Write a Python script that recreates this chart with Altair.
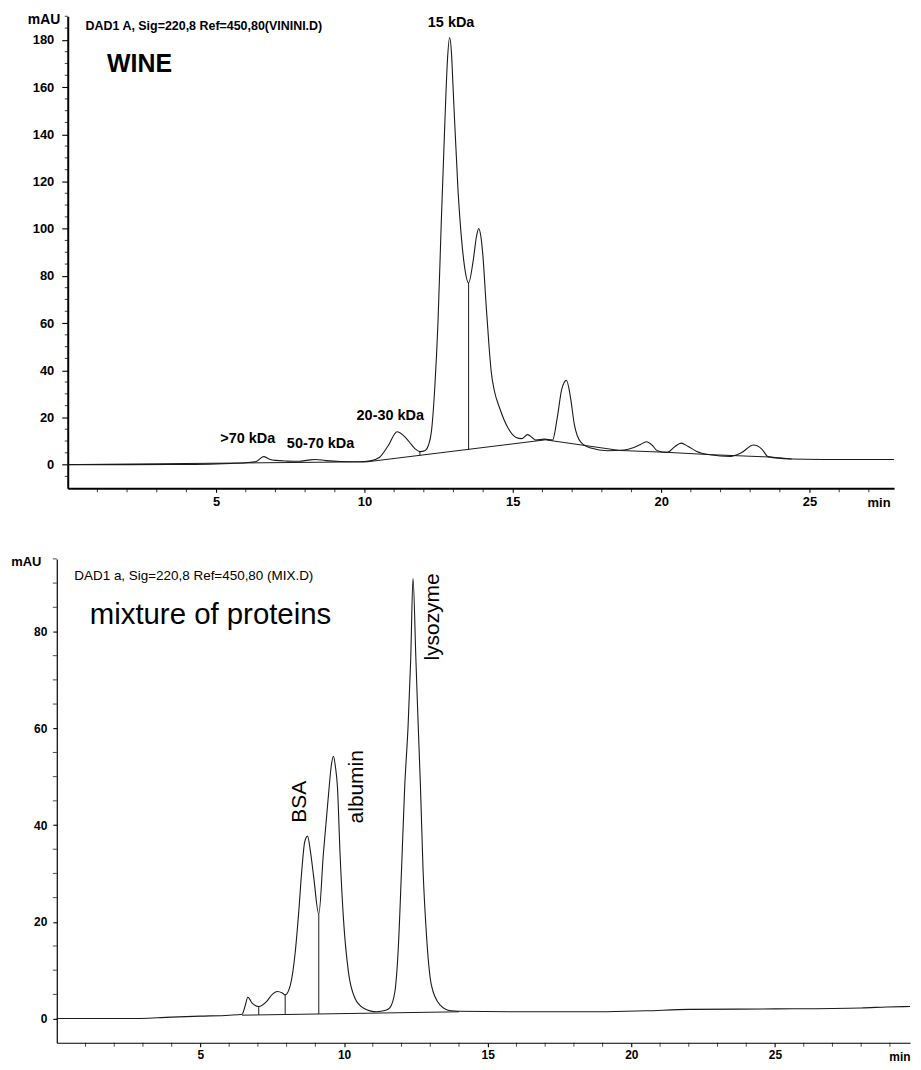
import altair as alt
import pandas as pd

FONT = "Liberation Sans"
INK = "#1a1a1a"

# ---------------- WINE chromatogram (top panel) ----------------
wine_t = [0.0, 2.0, 4.0, 5.0, 5.5, 6.0, 6.35, 6.6, 6.8, 7.0, 7.4, 7.8, 8.1, 8.35, 8.7,
          9.2, 9.8, 10.2, 10.5, 10.8, 11.1, 11.3, 11.5, 11.7, 11.87, 12.05, 12.15, 12.26,
          12.37, 12.48, 12.59, 12.71, 12.8, 12.87, 12.93, 12.99, 13.15, 13.27, 13.38,
          13.51, 13.66, 13.78, 13.85, 13.92, 13.99, 14.1, 14.2, 14.27, 14.38, 14.55,
          14.83, 15.11, 15.3, 15.5, 15.65, 15.78, 16.06, 16.34, 16.5, 16.65, 16.81,
          16.95, 17.07, 17.3, 17.63, 18.19, 18.75, 19.08, 19.3, 19.5, 19.7, 19.87, 20.2,
          20.45, 20.67, 20.9, 21.2, 21.65, 22.33, 22.7, 23.11, 23.4, 23.6, 24.34, 25.46,
          27.85]
wine_v = [0.0, 0.0, 0.1, 0.3, 0.5, 0.8, 1.3, 3.4, 2.3, 1.8, 1.5, 1.4, 1.9, 2.2, 1.7,
          1.3, 1.2, 1.6, 3.0, 8.0, 13.9, 12.5, 9.8, 6.8, 5.5, 6.0, 8.0, 14.3,
          32.6, 60.8, 103.0, 145.0, 172.0, 181.0, 175.0, 159.0, 117.0, 95.9, 83.3,
          77.0, 86.0, 97.0, 100.1, 97.0, 88.9, 67.8, 50.0, 39.7, 31.2, 24.2,
          15.7, 11.5, 11.0, 12.7, 11.5, 10.4, 10.8, 10.4, 20.0, 32.0, 35.7,
          28.0, 17.3, 9.4, 7.0, 5.9, 6.2, 7.3, 8.5, 9.7, 8.2, 5.9, 5.2,
          7.5, 9.1, 7.8, 5.6, 4.2, 3.5, 5.0, 8.3, 6.5, 3.4, 2.4, 2.2,
          2.2]
wine_base_t = [0.0, 10.1, 16.1, 18.6, 20.2, 21.7, 23.7, 24.4]
wine_base_v = [0.0, 1.2, 10.5, 6.0, 5.2, 4.2, 3.2, 2.4]
wine_drop_t = [11.87, 13.51]
wine_drop_lo = [3.8, 6.3]
wine_drop_hi = [5.5, 77.0]
wine_label_text = [">70 kDa", "50-70 kDa", "20-30 kDa", "15 kDa"]
wine_label_t = [6.07, 8.52, 10.87, 12.92]
wine_label_v = [10.8, 8.7, 20.7, 187.0]
wine_title_text = ["WINE"]
wine_title_t = [2.42]
wine_title_v = [169.7]
wine_head_text = ["DAD1 A, Sig=220,8 Ref=450,80(VININI.D)"]
wine_head_t = [0.6]
wine_head_v = [185.7]
wine_xticks = [5, 10, 15, 20, 25]
wine_xminor = [m for m in range(1, 28) if m % 5 != 0]
wine_yticks = [0, 20, 40, 60, 80, 100, 120, 140, 160, 180]
wine_yminor = [m for m in range(-5, 191, 5) if m % 20 != 0]

# ---------------- protein mixture chromatogram (bottom panel) ----------------
mix_t = [0.0, 2.5, 4.0, 5.0, 6.0, 6.45, 6.55, 6.65, 6.8, 7.03, 7.3, 7.5, 7.67, 7.85,
         7.95, 8.13, 8.3, 8.42, 8.53, 8.63, 8.73, 8.83, 8.94, 9.12, 9.28, 9.46, 9.56,
         9.63, 9.70, 9.77, 9.86, 9.98, 10.15, 10.38, 10.67, 11.13, 11.45, 11.59, 11.77,
         11.88, 12.0, 12.11, 12.23, 12.32, 12.40, 12.50, 12.58, 12.66, 12.75, 12.87,
         13.04, 13.33, 13.73, 14.0, 16.0, 18.9, 20.5, 22.0, 25.0, 28.0, 28.9, 29.7]
mix_v = [0.0, 0.0, 0.3, 0.5, 0.7, 0.9, 2.5, 4.4, 3.2, 2.5, 3.5, 5.0, 5.6, 5.3,
         4.9, 6.9, 13.7, 21.9, 30.7, 36.5, 37.7, 34.5, 29.4, 21.6, 34.1, 46.4, 52.5,
         54.2, 52.0, 47.8, 34.1, 20.5, 9.7, 4.2, 2.2, 1.4, 1.7, 2.2, 5.6,
         13.7, 30.7, 47.8, 60.7, 74.3, 91.0, 74.3, 60.7, 47.8, 30.7, 17.1,
         6.9, 2.9, 1.6, 1.5, 1.4, 1.4, 1.6, 1.9, 2.0, 2.2, 2.4, 2.5]
mix_base_t = [6.45, 14.0]
mix_base_v = [0.7, 1.4]
mix_drop_t = [7.03, 7.95, 9.12]
mix_drop_lo = [0.75, 0.85, 0.95]
mix_drop_hi = [2.5, 4.9, 21.6]
mix_label_text = ["BSA", "albumin", "lysozyme"]
mix_label_t = [8.47, 10.44, 13.1]
mix_label_v = [44.8, 47.9, 83.0]
mix_title_text = ["mixture of proteins"]
mix_title_t = [5.35]
mix_title_v = [83.5]
mix_head_text = ["DAD1 a, Sig=220,8 Ref=450,80 (MIX.D)"]
mix_head_t = [0.61]
mix_head_v = [91.5]
mix_xticks = [5, 10, 15, 20, 25]
mix_xminor = [m for m in range(1, 30) if m % 5 != 0]
mix_yticks = [0, 20, 40, 60, 80]
mix_yminor = [m for m in range(5, 96, 5) if m % 20 != 0]


def df(**cols):
    return pd.DataFrame(cols)


def x_axis(values, size, dw, title_x):
    return alt.Axis(values=values, tickSize=4, tickWidth=1.1, tickColor="black",
                    domainColor="black", domainWidth=dw, grid=False,
                    labelPadding=3, labelFont=FONT, labelFontSize=size,
                    labelFontWeight="bold", labelColor="black",
                    labelFlush=False, labelOverlap=False,
                    title="min", titleX=title_x, titleY=14, titleAlign="right",
                    titleBaseline="middle", titleFont=FONT, titleFontSize=size,
                    titleFontWeight="bold", titleColor="black")


def y_axis(values, size, dw, tick, pad, tx, tsize):
    return alt.Axis(values=values, tickSize=tick, tickWidth=1.1, tickColor="black",
                    domainColor="black", domainWidth=dw, grid=False,
                    labelPadding=pad, labelFont=FONT, labelFontSize=size,
                    labelFontWeight="bold", labelColor="black",
                    labelFlush=False, labelOverlap=False,
                    title="mAU", titleAngle=0, titleX=tx, titleY=3,
                    titleAlign="right", titleBaseline="middle", titleFont=FONT,
                    titleFontSize=tsize, titleFontWeight="bold", titleColor="black")


# ---------------- top panel ----------------
WX = alt.X("t:Q", scale=alt.Scale(domain=[0, 27.85], nice=False, zero=False),
           axis=x_axis(wine_xticks, 13, 2, 826))
WY = alt.Y("v:Q", scale=alt.Scale(domain=[-10, 190], nice=False, zero=False),
           axis=y_axis(wine_yticks, 13, 2, 6, 8, -8, 14))

w_sig = alt.Chart(df(t=wine_t, v=wine_v)).mark_line(
    color=INK, strokeWidth=1.1, interpolate="monotone").encode(x=WX, y=WY)
w_base = alt.Chart(df(t=wine_base_t, v=wine_base_v)).mark_line(
    color=INK, strokeWidth=1.0).encode(x="t:Q", y="v:Q")
w_drop = alt.Chart(df(t=wine_drop_t, v=wine_drop_lo, v2=wine_drop_hi)).mark_rule(
    color=INK, strokeWidth=1.0).encode(x="t:Q", y="v:Q", y2="v2:Q")
w_xmin = alt.Chart(df(t=wine_xminor)).mark_tick(
    orient="vertical", size=4, thickness=1.1, color="black", yOffset=2).encode(
    x="t:Q", y=alt.datum(-10))
w_ymin = alt.Chart(df(v=wine_yminor)).mark_tick(
    orient="horizontal", size=3, thickness=1.1, color="black", xOffset=-1.5).encode(
    y="v:Q", x=alt.datum(0))
w_lab = alt.Chart(df(t=wine_label_t, v=wine_label_v, s=wine_label_text)).mark_text(
    font=FONT, fontSize=14.5, fontWeight="bold", color="black",
    align="center", baseline="middle").encode(x="t:Q", y="v:Q", text="s:N")
w_title = alt.Chart(df(t=wine_title_t, v=wine_title_v, s=wine_title_text)).mark_text(
    font=FONT, fontSize=25, fontWeight="bold", color="black",
    align="center", baseline="middle").encode(x="t:Q", y="v:Q", text="s:N")
w_head = alt.Chart(df(t=wine_head_t, v=wine_head_v, s=wine_head_text)).mark_text(
    font=FONT, fontSize=12.5, fontWeight="bold", color="black",
    align="left", baseline="middle").encode(x="t:Q", y="v:Q", text="s:N")

top = alt.layer(w_sig, w_base, w_drop, w_xmin, w_ymin, w_lab, w_title, w_head).properties(
    width=830, height=474)

# ---------------- bottom panel ----------------
MX = alt.X("t:Q", scale=alt.Scale(domain=[0, 29.7], nice=False, zero=False),
           axis=x_axis(mix_xticks, 12, 1.2, 857))
MY = alt.Y("v:Q", scale=alt.Scale(domain=[-5, 95], nice=False, zero=False),
           axis=y_axis(mix_yticks, 12, 1.2, 4, 6, -16, 13))

m_sig = alt.Chart(df(t=mix_t, v=mix_v)).mark_line(
    color=INK, strokeWidth=1.1, interpolate="monotone").encode(x=MX, y=MY)
m_base = alt.Chart(df(t=mix_base_t, v=mix_base_v)).mark_line(
    color=INK, strokeWidth=1.0).encode(x="t:Q", y="v:Q")
m_drop = alt.Chart(df(t=mix_drop_t, v=mix_drop_lo, v2=mix_drop_hi)).mark_rule(
    color=INK, strokeWidth=1.0).encode(x="t:Q", y="v:Q", y2="v2:Q")
m_xmin = alt.Chart(df(t=mix_xminor)).mark_tick(
    orient="vertical", size=4, thickness=1.0, color="black", yOffset=2).encode(
    x="t:Q", y=alt.datum(-5))
m_ymin = alt.Chart(df(v=mix_yminor)).mark_tick(
    orient="horizontal", size=4, thickness=1.0, color="black", xOffset=-2).encode(
    y="v:Q", x=alt.datum(0))
m_lab = alt.Chart(df(t=mix_label_t, v=mix_label_v, s=mix_label_text)).mark_text(
    font=FONT, fontSize=21, color="black", angle=270,
    align="center", baseline="middle").encode(x="t:Q", y="v:Q", text="s:N")
m_title = alt.Chart(df(t=mix_title_t, v=mix_title_v, s=mix_title_text)).mark_text(
    font=FONT, fontSize=29.5, color="black",
    align="center", baseline="middle").encode(x="t:Q", y="v:Q", text="s:N")
m_head = alt.Chart(df(t=mix_head_t, v=mix_head_v, s=mix_head_text)).mark_text(
    font=FONT, fontSize=13.5, color="black",
    align="left", baseline="middle").encode(x="t:Q", y="v:Q", text="s:N")

bottom = alt.layer(m_sig, m_base, m_drop, m_xmin, m_ymin, m_lab, m_title, m_head).properties(
    width=857, height=486)

# small invisible spacer to shift the top panel right relative to the bottom one
spacer = alt.Chart(pd.DataFrame({"s": [0]})).mark_point(opacity=0).encode(
    x=alt.value(0), y=alt.value(0)).properties(width=1, height=1)

top_row = alt.hconcat(spacer, top, spacing=10, bounds="flush")

chart = alt.vconcat(top_row, bottom, spacing=47).properties(
    padding={"left": 2, "top": 2, "right": 0, "bottom": 0},
    background="white",
).configure_view(stroke=None).configure_axis(labelOverlap=False)

chart.save("out.html", embed_options={"renderer": "svg", "actions": False})
